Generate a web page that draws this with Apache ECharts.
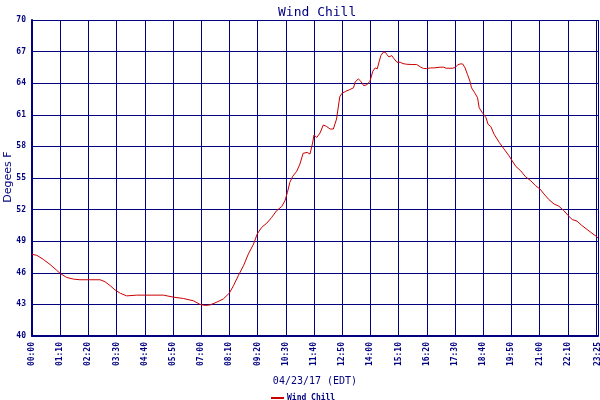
<!DOCTYPE html>
<html>
<head>
<meta charset="utf-8">
<script src="https://cdn.jsdelivr.net/npm/echarts@6/dist/echarts.min.js"></script>
<style>html,body{margin:0;padding:0;background:#fff}#c{width:600px;height:400px}</style>
</head>
<body>
<div id="c"></div>
<script>
// minutes after midnight (04/23/17 EDT)
const times = [0,12,28,45,61,70,86,103,119,169,181,194,206,219,235,260,326,351,376,401,417,430,442,459,475,
  490,500,512,525,537,550,559,570,583,595,607,620,628,634,640,647,657,665,673,683,690,696,700,707,715,723,731,740,748,756,
  764,769,779,789,798,802,810,816,823,831,839,846,852,857,862,866,872,877,881,886,893,899,906,914,921,930,943,955,964,972,980,989,997,1013,1022,1028,1043,1050,1057,1063,
  1069,1075,1081,1087,1091,1099,1106,1110,1118,1127,1132,1139,1147,1160,1172,1184,1192,1201,1213,1225,1238,1250,1261,1271,1283,1296,1308,1320,1331,1341,1353,1365,1378,1390,1400,1405];
const windChill = [47.75,47.66,47.28,46.78,46.25,45.94,45.56,45.40,45.34,45.34,45.16,44.78,44.38,44.06,43.81,43.88,43.88,43.69,43.56,43.34,43.00,42.90,42.95,43.22,43.52,
  44.08,44.77,45.72,46.67,47.78,48.73,49.68,50.31,50.72,51.26,51.89,52.30,52.84,53.63,54.58,55.15,55.63,56.32,57.34,57.43,57.27,58.22,59.08,58.85,59.27,60.03,59.90,59.65,59.65,60.60,
  62.71,63.02,63.24,63.40,63.56,64.10,64.41,64.19,63.78,63.84,64.19,65.14,65.45,65.36,66.08,66.62,66.94,66.94,66.72,66.49,66.62,66.31,65.99,65.99,65.86,65.80,65.77,65.77,65.55,65.39,65.39,65.45,65.45,65.52,65.52,65.42,65.42,65.48,65.74,65.83,
  65.83,65.46,64.83,64.20,63.56,63.09,62.62,61.67,61.20,60.73,60.10,59.88,59.16,58.37,57.74,57.11,56.63,56.10,55.69,55.12,54.74,54.27,53.95,53.48,52.95,52.53,52.32,51.91,51.43,51.06,50.90,50.49,50.11,49.76,49.48,49.30];
const xMin = 0, xMax = 1405, xStep = 70;
const yMin = 40, yMax = 70, yStep = 3;
const titleText = 'Wind Chill';
const yName = 'Degees F';
const xName = '04/23/17 (EDT)';
const seriesName = 'Wind Chill';

const navy = '#000080';
const mono = '"DejaVu Sans Mono", "Liberation Mono", monospace';
function hhmm(m){ const h = Math.floor(m/60), mm = Math.round(m%60); return String(h).padStart(2,'0')+':'+String(mm).padStart(2,'0'); }

const chart = echarts.init(document.getElementById('c'), null, {renderer:'canvas'});
chart.setOption({
  animation: false,
  backgroundColor: '#fff',
  title: { text: titleText, left: 273, top: 1, textStyle: { color: navy, fontFamily: mono, fontSize: 13, fontWeight: 'normal' } },
  legend: { left: 266, top: 389, icon: 'rect', itemWidth: 13, itemHeight: 2, itemGap: 4,
    textStyle: { color: navy, fontFamily: mono, fontSize: 8, fontWeight: 'bold', padding:[0,0,0,-2] }, data: [seriesName] },
  graphic: [{
    type: 'text', x: 8, y: 177, rotation: Math.PI / 2,
    style: { text: yName, fill: navy, font: '11px "DejaVu Sans", sans-serif', textAlign: 'center', textVerticalAlign: 'middle' }
  }],
  grid: { left: 32, right: 2, top: 20, bottom: 64, containLabel: false, outerBoundsMode: 'none' },
  xAxis: {
    type: 'value', min: xMin, max: xMax, interval: xStep,
    name: xName, nameLocation: 'middle', nameGap: 40,
    nameTextStyle: { color: navy, fontFamily: mono, fontSize: 10 },
    axisLine: { show: true, lineStyle: { color: navy, width: 2 } },
    axisTick: { show: false },
    axisLabel: { rotate: 90, margin: 6, color: navy, fontFamily: mono, fontSize: 8, fontWeight: 'bold', hideOverlap: false, showMaxLabel: true, showMinLabel: true, formatter: v => hhmm(v) },
    splitLine: { show: true, lineStyle: { color: navy, width: 1 } }
  },
  yAxis: {
    type: 'value', min: yMin, max: yMax, interval: yStep,
    axisLine: { show: true, lineStyle: { color: navy, width: 2 } },
    axisTick: { show: false },
    axisLabel: { margin: 6, color: navy, fontFamily: mono, fontSize: 8, fontWeight: 'bold' },
    splitLine: { show: true, lineStyle: { color: navy, width: 1 } }
  },
  series: [{
    name: seriesName, type: 'line', showSymbol: false, symbol: 'none',
    data: times.map((t,i) => [t, windChill[i]]),
    lineStyle: { color: '#cc0000', width: 1 }, itemStyle: { color: '#cc0000' }
  }]
});
</script>
</body>
</html>
